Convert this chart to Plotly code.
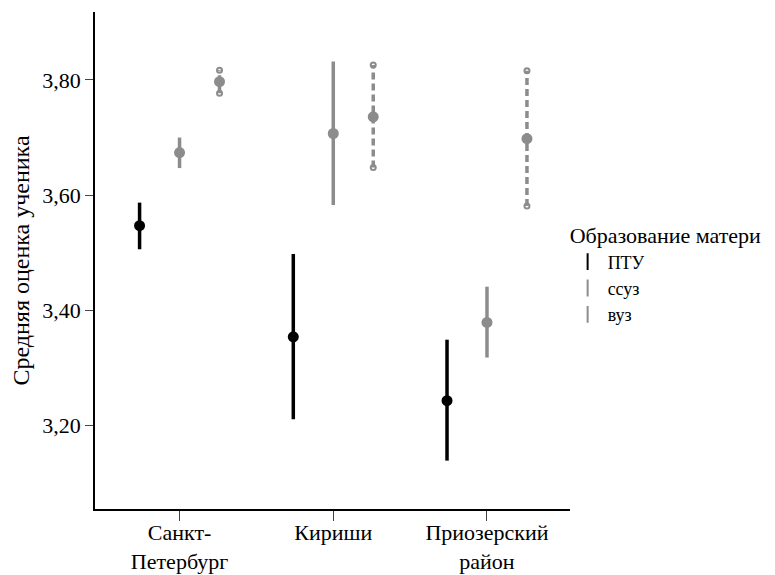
import plotly.graph_objects as go

# regions on the x axis
regions = ['Санкт-Петербург', 'Кириши', 'Приозерский район']
region_labels = ['Санкт-<br>Петербург', 'Кириши', 'Приозерский<br>район']

# mother's education groups
groups = ['ПТУ', 'ссуз', 'вуз']

# mean pupil grade and its interval, per group (order follows regions)
mean_ptu = [3.547, 3.354, 3.243]
low_ptu = [3.506, 3.211, 3.139]
high_ptu = [3.587, 3.498, 3.349]

mean_ssuz = [3.674, 3.707, 3.379]
low_ssuz = [3.647, 3.583, 3.318]
high_ssuz = [3.700, 3.832, 3.441]

mean_vuz = [3.797, 3.736, 3.698]
low_vuz = [3.777, 3.648, 3.581]
high_vuz = [3.817, 3.826, 3.816]

means = [mean_ptu, mean_ssuz, mean_vuz]
lows = [low_ptu, low_ssuz, low_vuz]
highs = [high_ptu, high_ssuz, high_vuz]

colors = ['#000000', '#8c8c8c', '#8c8c8c']
dashes = ['solid', 'solid', '7px,4px']
font_family = 'Liberation Serif, Times New Roman, serif'

fig = go.Figure()

for i, g in enumerate(groups):
    # vertical interval lines, one segment per region
    xs, ys = [], []
    for r, lo, hi in zip(regions, lows[i], highs[i]):
        xs += [r, r, None]
        ys += [lo, hi, None]
    fig.add_trace(go.Scatter(
        x=xs, y=ys, mode='lines', offsetgroup=g, showlegend=False,
        line=dict(color=colors[i], width=3.5, dash=dashes[i]), hoverinfo='skip'
    ))
    # open circle caps for the dashed (вуз) intervals
    if g == 'вуз':
        fig.add_trace(go.Scatter(
            x=regions + regions, y=lows[i] + highs[i], mode='markers', offsetgroup=g,
            showlegend=False, marker=dict(symbol='circle-open', size=5, color=colors[i], line=dict(width=2)),
            hoverinfo='skip'
        ))
    # mean points
    fig.add_trace(go.Scatter(
        x=regions, y=means[i], mode='markers', name=g, offsetgroup=g, showlegend=False,
        marker=dict(color=colors[i], size=11, symbol='circle')
    ))
    # legend entry: small vertical bar icon
    fig.add_trace(go.Scatter(
        x=[None], y=[None], mode='markers', name=g, offsetgroup=g,
        marker=dict(symbol='line-ns-open', size=8, color=colors[i], line=dict(width=3.5, color=colors[i]))
    ))

# page body adds an 8px offset, so the figure is a bit smaller than the window
fig.update_layout(
    width=767, height=567,
    template='simple_white',
    scattermode='group', scattergap=0.22,
    margin=dict(l=87, r=205, t=4, b=66),
    font=dict(family=font_family, size=21, color='#000000'),
    legend=dict(
        title=dict(text='Образование матери', font=dict(family=font_family, size=22)),
        x=0.995, xanchor='left', y=0.592, yanchor='top',
        font=dict(family=font_family, size=18), itemsizing='constant', tracegroupgap=0, itemwidth=30
    ),
    separators=', ',
    showlegend=True,
)

fig.update_xaxes(
    type='category', categoryorder='array', categoryarray=regions,
    tickvals=regions, ticktext=region_labels, range=[-0.55, 2.54],
    ticks='outside', ticklen=10, showline=True, linewidth=1.5, linecolor='#000000',
    showgrid=False, zeroline=False, automargin=False, ticklabelstandoff=-7,
    tickfont=dict(family=font_family, size=22)
)
fig.update_yaxes(
    title=dict(text='Средняя оценка ученика', standoff=17, font=dict(family=font_family, size=24)),
    range=[3.055, 3.918],
    tickvals=[3.2, 3.4, 3.6, 3.8], tickformat='.2f',
    ticks='outside', ticklen=8, showline=True, linewidth=1.5, linecolor='#000000',
    showgrid=False, zeroline=False, automargin=False,
    tickfont=dict(family=font_family, size=22)
)

fig.write_html('out.html')
